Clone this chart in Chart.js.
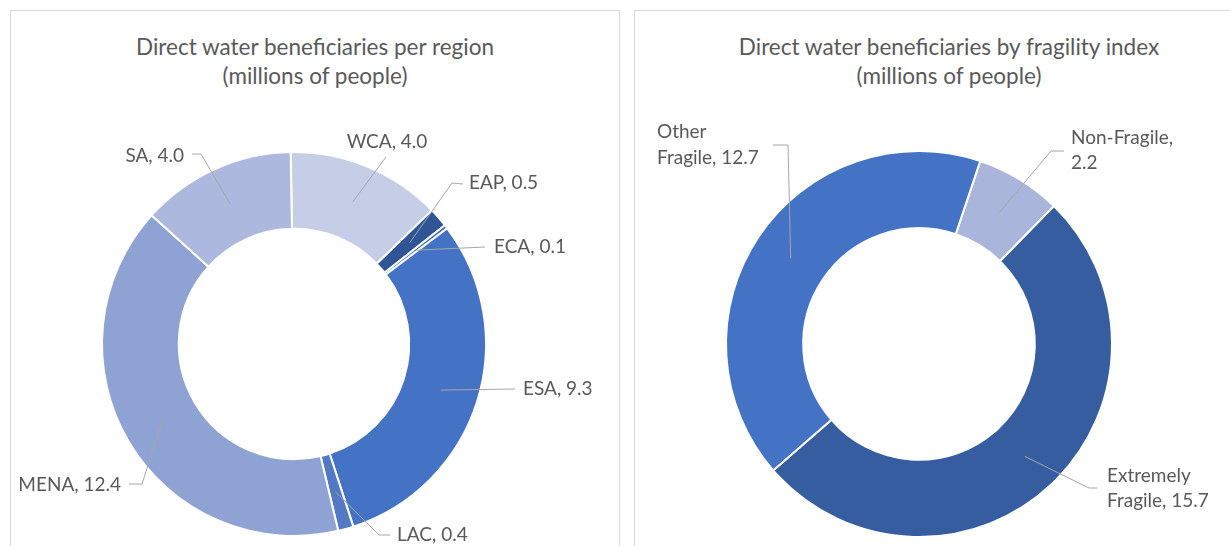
<!DOCTYPE html>
<html>
<head>
<meta charset="utf-8">
<script src="https://cdn.jsdelivr.net/npm/chart.js@4"></script>
<style>
  html, body { margin: 0; padding: 0; background: #ffffff; overflow: hidden; }
  body { width: 1230px; height: 546px; position: relative; font-family: Lato, "Open Sans", sans-serif; }
  .panel { position: absolute; border: 1px solid #d9d9d9; box-sizing: border-box; background: #fff; }
  #p1 { left: 10px; top: 10px; width: 610px; height: 560px; }
  #p2 { left: 634px; top: 10px; width: 620px; height: 560px; }
  .title { position: absolute; left: 0; right: 0; text-align: center; color: #595959; font-size: 22.5px; line-height: 29px; }
  canvas { position: absolute; left: 0; top: 0; }
</style>
</head>
<body>
<div class="panel" id="p1">
  <div class="title" id="t1" style="top:21px;"></div>
  <canvas id="c1" width="609" height="536"></canvas>
</div>
<div class="panel" id="p2">
  <div class="title" id="t2" style="top:21px; width:628px;"></div>
  <canvas id="c2" width="596" height="536"></canvas>
</div>
<script>
// ---------- data ----------
const regionTitle = ["Direct water beneficiaries per region", "(millions of people)"];
const regionLabels = ["WCA", "EAP", "ECA", "ESA", "LAC", "MENA", "SA"];
const regionValues = [4.0, 0.5, 0.1, 9.3, 0.4, 12.4, 4.0];
const regionColors = ["#c6cee7", "#2f5597", "#3f6bbd", "#4472c4", "#5379c4", "#8fa2d4", "#acb8de"];

const fragTitle = ["Direct water beneficiaries by fragility index", "(millions of people)"];
const fragLabels = ["Non-Fragile", "Extremely Fragile", "Other Fragile"];
const fragValues = [2.2, 15.7, 12.7];
const fragColors = ["#a9b5db", "#355da0", "#4472c4"];

// ---------- label layout (relative to donut centre) ----------
const regionLabelLayout = [
  { path: [[92, -187]], text: [[93, -202]], align: "center", lines: ["WCA, 4.0"] },
  { path: [[158, -161], [169, -160]], text: [[175, -161]], align: "left", lines: ["EAP, 0.5"] },
  { path: [[191, -97]], text: [[200, -97]], align: "left", lines: ["ECA, 0.1"] },
  { path: [[221, 45]], text: [[229, 45]], align: "left", lines: ["ESA, 9.3"] },
  { path: [[85, 191], [96, 191]], text: [[103, 191]], align: "left", lines: ["LAC, 0.4"] },
  { path: [[-152, 140], [-165, 140]], text: [[-173, 141]], align: "right", lines: ["MENA, 12.4"] },
  { path: [[-93, -190], [-102, -190]], text: [[-110, -188]], align: "right", lines: ["SA, 4.0"] }
];
const fragLabelLayout = [
  { path: [[132, -193], [145, -193]], text: [[152, -206], [152, -181]], align: "left", lines: ["Non-Fragile,", "2.2"] },
  { path: [[170, 144], [178, 144]], text: [[188, 132], [188, 157]], align: "left", lines: ["Extremely", "Fragile, 15.7"] },
  { path: [[-131, -199], [-146, -199]], text: [[-262, -212], [-262, -186]], align: "left", lines: ["Other", "Fragile, 12.7"] }
];

document.getElementById("t1").innerHTML = regionTitle.join("<br>");
document.getElementById("t2").innerHTML = fragTitle.join("<br>");

const leaderPlugin = {
  id: "leaders",
  afterDatasetsDraw(chart, args, opts) {
    const ctx = chart.ctx;
    const meta = chart.getDatasetMeta(0);
    const layout = opts.layout;
    ctx.save();
    meta.data.forEach((arc, i) => {
      const L = layout[i];
      if (!L) return;
      const c = arc.getCenterPoint();
      const cx = arc.x, cy = arc.y;
      ctx.beginPath();
      ctx.strokeStyle = "#a6a6a6";
      ctx.lineWidth = 1;
      ctx.moveTo(c.x, c.y);
      L.path.forEach(p => ctx.lineTo(cx + p[0], cy + p[1]));
      ctx.stroke();
      ctx.fillStyle = "#595959";
      ctx.font = "19px Lato, 'Open Sans', sans-serif";
      ctx.textAlign = L.align;
      ctx.textBaseline = "middle";
      L.lines.forEach((t, k) => {
        const tp = L.text[k];
        ctx.fillText(t, cx + tp[0], cy + tp[1]);
      });
    });
    ctx.restore();
  }
};

function makeDonut(id, labels, values, colors, layout, rotation, padding) {
  return new Chart(document.getElementById(id), {
    type: "doughnut",
    data: {
      labels: labels,
      datasets: [{ data: values, backgroundColor: colors, borderColor: "#ffffff", borderWidth: 2 }]
    },
    options: {
      responsive: false,
      animation: false,
      cutout: "60%",
      rotation: rotation,
      layout: { padding: padding },
      plugins: {
        legend: { display: false },
        tooltip: { enabled: false },
        title: { display: false },
        leaders: { layout: layout }
      }
    },
    plugins: [leaderPlugin]
  });
}

makeDonut("c1", regionLabels, regionValues, regionColors, regionLabelLayout, -1,
  { left: 90, right: 133, top: 140, bottom: 10 });
makeDonut("c2", fragLabels, fragValues, fragColors, fragLabelLayout, 18.5,
  { left: 90, right: 118, top: 139, bottom: 9 });
</script>
</body>
</html>
